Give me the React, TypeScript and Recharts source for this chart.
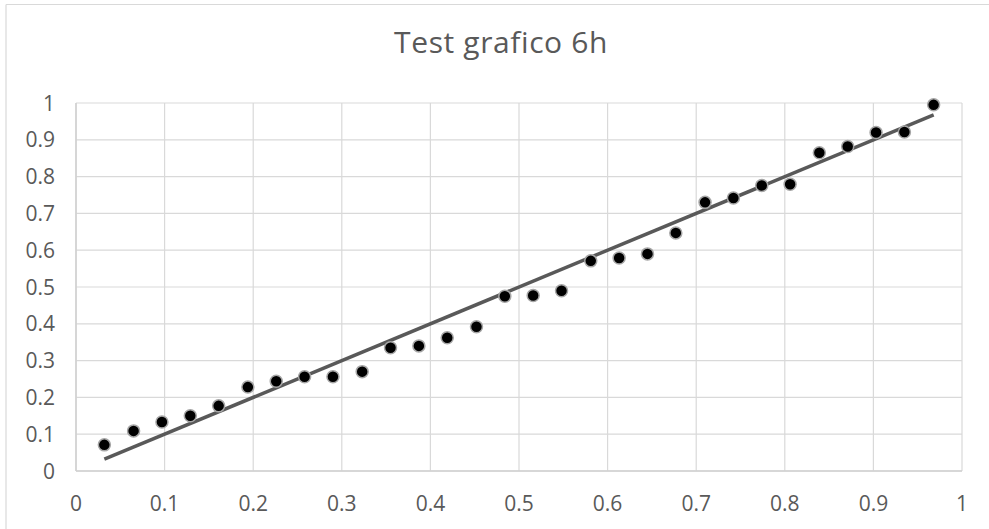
import React from "react";
import { ScatterChart, Scatter, XAxis, YAxis, CartesianGrid } from "recharts";

const title = "Test grafico 6h";

const xValues = [
  0.032, 0.065, 0.097, 0.129, 0.161, 0.194, 0.226, 0.258, 0.29, 0.323,
  0.355, 0.387, 0.419, 0.452, 0.484, 0.516, 0.548, 0.581, 0.613, 0.645,
  0.677, 0.71, 0.742, 0.774, 0.806, 0.839, 0.871, 0.903, 0.935, 0.968,
];
const yValues = [
  0.071, 0.109, 0.133, 0.15, 0.177, 0.228, 0.244, 0.256, 0.256, 0.27,
  0.335, 0.34, 0.362, 0.392, 0.475, 0.477, 0.49, 0.571, 0.579, 0.59,
  0.647, 0.73, 0.742, 0.776, 0.779, 0.865, 0.882, 0.92, 0.921, 0.995,
];
const trendX = [0.032, 0.968];
const trendY = [0.032, 0.968];
const ticks = [0, 0.1, 0.2, 0.3, 0.4, 0.5, 0.6, 0.7, 0.8, 0.9, 1];
const tickLabels = ["0", "0.1", "0.2", "0.3", "0.4", "0.5", "0.6", "0.7", "0.8", "0.9", "1"];

const points = xValues.map((x, i) => ({ x, y: yValues[i] }));
const trend = trendX.map((x, i) => ({ x, y: trendY[i] }));

const fmt = (v: number) => {
  const idx = ticks.findIndex((t) => Math.abs(t - v) < 1e-9);
  return idx >= 0 ? tickLabels[idx] : String(v);
};

const FONT = "'Open Sans', sans-serif";

const XTick = (props: any) => {
  const { x, payload } = props;
  return (
    <text x={x} y={511} textAnchor="middle" fill="#595959" fontSize={21} fontFamily={FONT}>
      {fmt(payload.value)}
    </text>
  );
};
const YTick = (props: any) => {
  const { y, payload } = props;
  return (
    <text x={55} y={y} dy="0.36em" textAnchor="end" fill="#595959" fontSize={21} fontFamily={FONT}>
      {fmt(payload.value)}
    </text>
  );
};

const Dot = (props: any) => {
  const { cx, cy } = props;
  if (cx == null || cy == null) return <g />;
  return <circle cx={cx} cy={cy} r={6} fill="#000" stroke="#a6a6a6" strokeWidth={1.5} />;
};
const NoDot = () => <g />;

export default function App() {
  return (
    <div style={{ position: "absolute", left: 0, top: 0, width: 989, height: 529, background: "#fff" }}>
      <ScatterChart
        width={989}
        height={529}
        margin={{ top: 103, right: 27, bottom: 18, left: 0 }}
      >
        <CartesianGrid stroke="#d9d9d9" strokeWidth={1.2} />
        <XAxis
          type="number"
          dataKey="x"
          domain={[0, 1]}
          ticks={ticks}
          height={40}
          tickSize={0}
          tickMargin={25}
          axisLine={{ stroke: "#d0d0d0", strokeWidth: 1.5 }}
          tick={<XTick />}
          interval={0}
        />
        <YAxis
          type="number"
          dataKey="y"
          domain={[0, 1]}
          ticks={ticks}
          width={76}
          tickSize={0}
          tickMargin={21}
          axisLine={{ stroke: "#d0d0d0", strokeWidth: 1.5 }}
          tick={<YTick />}
          interval={0}
        />
        <Scatter
          data={trend}
          line={{ stroke: "#595959", strokeWidth: 3.5 }}
          shape={NoDot}
          isAnimationActive={false}
        />
        <Scatter data={points} shape={Dot} isAnimationActive={false} />
      </ScatterChart>
      <svg
        width={989}
        height={529}
        style={{ position: "absolute", left: 0, top: 0, pointerEvents: "none" }}
      >
        <line x1={6} y1={4.5} x2={989} y2={4.5} stroke="#d9d9d9" strokeWidth={1.2} />
        <line x1={6} y1={4.5} x2={6} y2={529} stroke="#d9d9d9" strokeWidth={1.2} />
        <text
          x={501}
          y={53}
          textAnchor="middle"
          fill="#595959"
          fontSize={30}
          letterSpacing={0.6}
          fontFamily={FONT}
        >
          {title}
        </text>
      </svg>
    </div>
  );
}
